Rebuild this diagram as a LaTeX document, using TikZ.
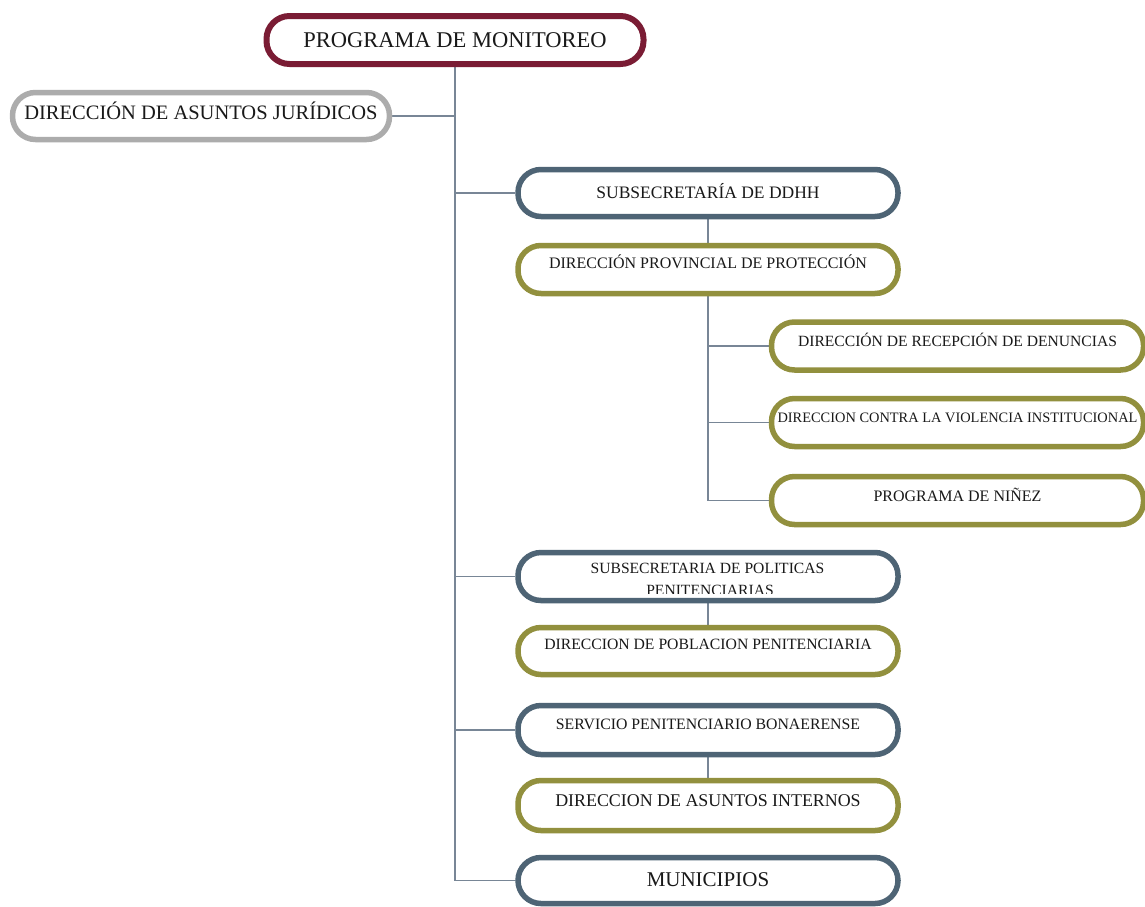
\documentclass[tikz,border=0pt]{standalone}
\usepackage{fontspec}
\setmainfont{Liberation Serif}
\usetikzlibrary{backgrounds}
\definecolor{maroonc}{RGB}{122,28,52}
\definecolor{grayc}{RGB}{172,172,172}
\definecolor{slatec}{RGB}{78,100,117}
\definecolor{olivec}{RGB}{146,144,62}
\definecolor{txtc}{RGB}{25,25,25}
\definecolor{linkc}{RGB}{120,134,150}
\newcommand\capc[2][0]{\raisebox{\dimexpr#1pt-0.331em\relax}[0pt][0pt]{#2}}
\begin{document}
\begin{tikzpicture}[x=1pt,y=-1pt,
  box/.style={draw=#1, line width=5.5pt, rounded corners=23pt, fill=white, text=txtc, inner sep=0pt},
  mid/.style={minimum width=380pt, minimum height=47pt},
  rgt/.style={minimum width=372pt, minimum height=48pt},
  fs/.style={font=\fontsize{#1pt}{#1pt}\selectfont},
  link/.style={draw=linkc, line width=1.2pt}]
\useasboundingbox (0,0) rectangle (1145,906);

\node[box=maroonc, minimum width=377pt, minimum height=48pt, line width=6pt, fs=22.5] (prog) at (455,40) {\capc{PROGRAMA DE MONITOREO}};
\node[box=grayc, minimum width=377pt, minimum height=47pt, fs=20.5] (jur) at (201,116) {\capc[3.5]{DIRECCIÓN DE ASUNTOS JURÍDICOS}};
\node[box=slatec, mid, fs=17.5] (sddhh) at (708,193) {\capc[0.5]{SUBSECRETARÍA DE DDHH}};
\node[box=olivec, mid, minimum height=48pt, fs=16] (prov) at (708,269.5) {\capc[6]{DIRECCIÓN PROVINCIAL DE PROTECCIÓN}};
\node[box=olivec, rgt, fs=15.6] (rec) at (957.5,346) {\capc[5]{DIRECCIÓN DE RECEPCIÓN DE DENUNCIAS}};
\node[box=olivec, rgt, fs=14.4] (vio) at (957.5,422.5) {\capc[5]{DIRECCION CONTRA LA VIOLENCIA INSTITUCIONAL}};
\node[box=olivec, rgt, fs=16] (nin) at (957.5,500.5) {\capc[4.5]{PROGRAMA DE NIÑEZ}};
\node[box=slatec, mid, minimum height=48pt] (spp) at (708,576.5) {};
\begin{scope}
  \clip (520,555) rectangle (895,593);
  \node[fs=15.6, text=txtc, anchor=base, inner sep=0pt] (spp1) at (707.5,573) {SUBSECRETARIA DE POLITICAS};
  \node[fs=15.6, text=txtc, anchor=base, inner sep=0pt] (spp2) at (710,595) {PENITENCIARIAS};
\end{scope}
\node[box=olivec, mid, fs=15.7] (pob) at (708,651) {\capc[7]{DIRECCION DE POBLACION PENITENCIARIA}};
\node[box=slatec, mid, minimum height=49pt, fs=15.8] (serv) at (708,730) {\capc[6]{SERVICIO PENITENCIARIO BONAERENSE}};
\node[box=olivec, mid, minimum height=50pt, fs=17.9] (asi) at (708,805.5) {\capc[5]{DIRECCION DE ASUNTOS INTERNOS}};
\node[box=slatec, mid, minimum height=46pt, fs=21] (mun) at (708,880.5) {\capc[0.5]{MUNICIPIOS}};

\begin{pgfonlayer}{background}
  \fill[white] (0,0) rectangle (1145,906);
  \draw[link] (prog.south) |- (mun.west);
  \draw[link] (jur.east) -- (jur.east -| prog.south);
  \foreach \n in {sddhh,spp,serv} \draw[link] (prog.south |- \n.west) -- (\n.west);
  \draw[link] (sddhh.south) -- (prov.north);
  \draw[link] (prov.south) |- (nin.west);
  \draw[link] (prov.south |- rec.west) -- (rec.west);
  \draw[link] (prov.south |- vio.west) -- (vio.west);
  \draw[link] (spp.south) -- (pob.north);
  \draw[link] (serv.south) -- (asi.north);
\end{pgfonlayer}
\end{tikzpicture}
\end{document}
